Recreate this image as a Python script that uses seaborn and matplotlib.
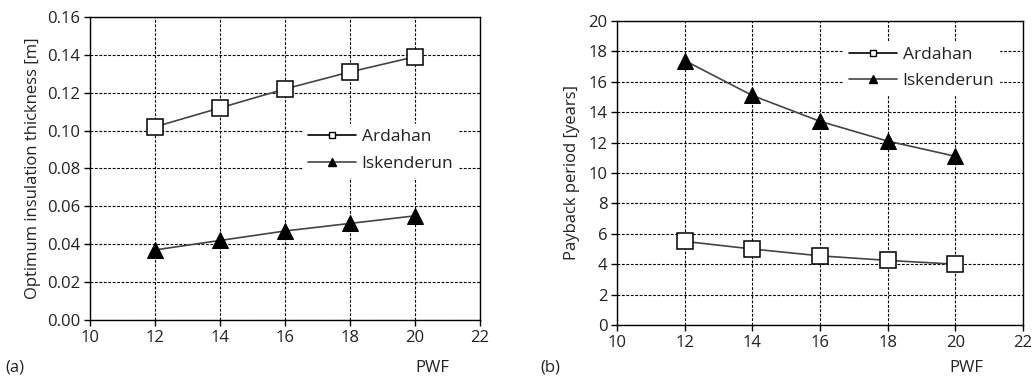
import numpy as np
import pandas as pd
import matplotlib
matplotlib.use("Agg")
import matplotlib.pyplot as plt
from matplotlib.lines import Line2D
import seaborn as sns

pwf = [12, 14, 16, 18, 20]
thick_ardahan = [0.102, 0.112, 0.122, 0.131, 0.139]
thick_iskenderun = [0.037, 0.042, 0.047, 0.051, 0.055]
payback_ardahan = [5.5, 5.0, 4.55, 4.25, 4.0]
payback_iskenderun = [17.4, 15.1, 13.4, 12.1, 11.1]
cities = ["Ardahan", "Iskenderun"]

sns.set_theme(style="ticks")
plt.rcParams['font.family'] = ['Open Sans', 'DejaVu Sans']

fig = plt.figure(figsize=(10.32, 3.8), dpi=100)
ax1 = fig.add_axes([90/1032, 1-320/380, 390/1032, 303/380])
ax2 = fig.add_axes([617/1032, 1-325/380, 406/1032, 304/380])

def build(a, i):
    return pd.DataFrame({
        "PWF": pwf + pwf,
        "val": list(a) + list(i),
        "city": [cities[0]] * 5 + [cities[1]] * 5,
    })

df1 = build(thick_ardahan, thick_iskenderun)
df2 = build(payback_ardahan, payback_iskenderun)

markers = {"Ardahan": "s", "Iskenderun": "^"}
palette = {"Ardahan": "#444444", "Iskenderun": "#444444"}
TS = 12

for ax, df in [(ax1, df1), (ax2, df2)]:
    sns.lineplot(data=df, x="PWF", y="val", hue="city", style="city",
                 markers=markers, dashes=False, palette=palette, ax=ax,
                 linewidth=1.2, markersize=11, legend=False, zorder=3)
    ax.lines[0].set_markerfacecolor("white")
    ax.lines[0].set_markeredgecolor("black")
    ax.lines[0].set_markeredgewidth(1.1)
    ax.lines[1].set_markerfacecolor("black")
    ax.lines[1].set_markeredgecolor("black")
    ax.lines[1].set_markersize(12)
    ax.set_xlim(10, 22)
    ax.set_xticks([10, 12, 14, 16, 18, 20, 22])
    ax.grid(True, color="black", linestyle=(0, (2.5, 1.5)), linewidth=0.8)
    ax.set_axisbelow(True)
    for s in ax.spines.values():
        s.set_color("black")
        s.set_linewidth(1.0)
    ax.tick_params(direction="out", length=4, width=1, color="black",
                   labelcolor="#222222", labelsize=TS, pad=3)
    ax.set_xlabel("")

handles = [
    Line2D([], [], color="black", marker="s", markerfacecolor="white",
           markeredgecolor="black", markersize=5, linewidth=1.2),
    Line2D([], [], color="#444444", marker="^", markerfacecolor="black",
           markeredgecolor="black", markersize=6, linewidth=1.2),
]

ax1.set_ylim(0, 0.16)
ax1.set_yticks(np.arange(0, 0.161, 0.02))
ax1.set_yticklabels([f"{v:.2f}" for v in np.arange(0, 0.161, 0.02)])
ax1.set_ylabel("Optimum insulation thickness [m]", fontsize=TS, color="#222222", labelpad=4)

ax2.set_ylim(0, 20)
ax2.set_yticks(np.arange(0, 21, 2))
ax2.set_ylabel("Payback period [years]", fontsize=TS, color="#222222", labelpad=6)

common = dict(loc="center", frameon=True, fancybox=False, edgecolor="white",
              facecolor="white", framealpha=1, fontsize=12.5, handlelength=2.8,
              handletextpad=0.3, labelspacing=0.6, borderpad=0.3)
leg1 = ax1.legend(handles, cities, bbox_to_anchor=(0.745, 0.56), **common)
leg2 = ax2.legend(handles, cities, bbox_to_anchor=(0.75, 0.845), **common)
for leg in (leg1, leg2):
    leg.set_zorder(5)
    for t in leg.get_texts():
        t.set_color("#222222")

fig.text(5/1032, 1-368/380, "(a)", fontsize=TS, va="center", ha="left", color="#222222")
fig.text(432/1032, 1-368/380, "PWF", fontsize=TS, va="center", ha="center", color="#222222")
fig.text(540/1032, 1-368/380, "(b)", fontsize=TS, va="center", ha="left", color="#222222")
fig.text(966/1032, 1-368/380, "PWF", fontsize=TS, va="center", ha="center", color="#222222")

fig.savefig("out.png", dpi=100, facecolor="white")
